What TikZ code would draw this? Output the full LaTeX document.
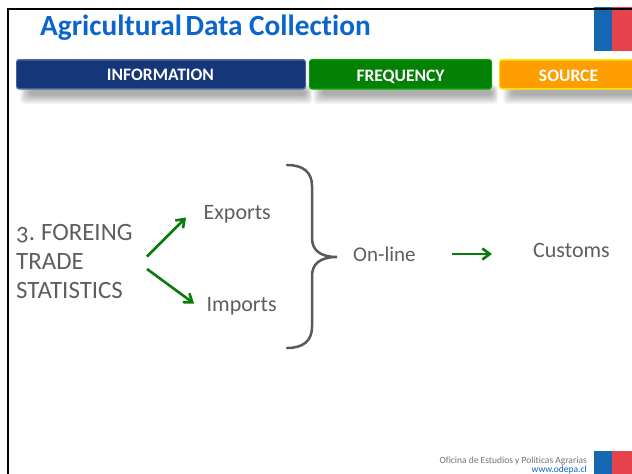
\documentclass[tikz,border=0pt]{standalone}
\usepackage{fontspec}
\setmainfont[Ligatures=NoCommon]{Carlito}
\usetikzlibrary{arrows.meta}
\definecolor{tblue}{HTML}{0A66CC}
\definecolor{hblue}{HTML}{153679}
\definecolor{hgreen}{HTML}{048004}
\definecolor{horange}{HTML}{FF9E00}
\definecolor{flagb}{HTML}{1467B0}
\definecolor{flagr}{HTML}{E6424B}
\definecolor{body}{HTML}{5E5E5E}
\definecolor{brace}{HTML}{5A5A5A}
\definecolor{arrowg}{HTML}{0A7A0A}
\tikzset{
  x=1pt,y=-1pt,
  lbl/.style={inner sep=0pt,anchor=base west,text=body,font=\fontsize{22}{22}\selectfont},
  biglbl/.style={inner sep=0pt,anchor=base west,text=body,font=\fontsize{24.9}{24.9}\selectfont},
  head/.style={inner sep=0pt,anchor=base,text=white,font=\fontsize{17.5}{17.5}\selectfont\bfseries},
  garrow/.style={draw=arrowg,line width=2.6pt,-{Straight Barb[length=7.5pt,width=11pt,line width=2.6pt]}},
}
\newcommand{\headbar}[5]{% x0 x1 fill edge name
  \foreach \d in {0,1,...,9}{
    \fill[black,opacity=.035,rounded corners=4pt]
      ({#1+13-\d},{90-\d*.6}) rectangle ({#2+\d*.7},{95+\d});
  }
  \fill[#4,rounded corners=3pt] (#1,59) rectangle (#2,89.5);
  \fill[#3,rounded corners=2.5pt] (#1+.8,60.5) rectangle (#2-.8,88);
}
\begin{document}
\begin{tikzpicture}
\useasboundingbox (0,0) rectangle (632,474);
\fill[white] (0,0) rectangle (632,474);
% slide frame
\draw[black,line width=2pt] (8,474) -- (8,9) -- (632,9);
% flag top
\fill[flagb] (594,7) rectangle (612,51);
\fill[flagr] (612,7) rectangle (632,51);
\fill[black] (594,7.5) rectangle (632,10);
% title
\node[inner sep=0pt,anchor=base west,text=tblue,font=\fontsize{29.3}{29.3}\selectfont\bfseries] (title) at (40,35.5) {Agricultural\hspace{-3pt} Data Collection};
% header bars
\headbar{16}{306}{hblue}{hblue!75!white}{info}
\node[head] (info) at (160.5,80.5) {INFORMATION};
\headbar{309}{492}{hgreen}{green!65!black}{freq}
\node[head] (freq) at (400.5,81) {FREQUENCY};
\begin{scope}
\clip (0,0) rectangle (632,474);
\headbar{499}{650}{horange}{yellow!90!orange}{srcbar}
\end{scope}
\node[head] (src) at (568.5,81) {SOURCE};
% left text
\node[biglbl] (t1) at (16,240) {\addfontfeature{Numbers=OldStyle}3.\hspace{-1.5pt} FOREING};
\node[biglbl] (t2) at (16,269) {TRADE};
\node[biglbl] (t3) at (16,298) {STATISTICS};
\coordinate (a1s) at (147,256.5);
\coordinate (a1e) at (186,217.5);
\coordinate (a2s) at (147,269);
\coordinate (a2e) at (194,303.5);
\node[lbl] (exp) at (203.5,219) {Exports};
\node[lbl] (imp) at (206.5,311) {Imports};
\draw[garrow] (a1s) -- (a1e);
\draw[garrow] (a2s) -- (a2e);
% brace
\draw[brace,line width=2.5pt,line cap=round]
  (287,165) .. controls (303,165) and (312,172) .. (312,186)
  -- (312,238) .. controls (312,250) and (320,257) .. (337,257)
  .. controls (320,257) and (312,264) .. (312,276)
  -- (312,327) .. controls (312,341) and (303,348) .. (287,348);
\node[lbl,font=\fontsize{21}{21}\selectfont] (on) at (353,261.5) {On-line};
\node[lbl] (cus) at (533,257) {Customs};
\coordinate (a3s) at (452,254);
\coordinate (a3e) at (492,254);
\draw[garrow] (a3s) -- (a3e);
% footer
\node[inner sep=0pt,anchor=base east,text=black!55,font=\fontsize{9.5}{9.5}\selectfont] (f1) at (587,463) {Oficina de Estudios y Políticas Agrarias};
\node[inner sep=0pt,anchor=base east,text=tblue,font=\fontsize{9.5}{9.5}\selectfont] (f2) at (587,472.5) {www.odepa.cl};
\fill[flagb] (594,451) rectangle (612,474);
\fill[flagr] (612,451) rectangle (632,474);
\end{tikzpicture}
\end{document}
